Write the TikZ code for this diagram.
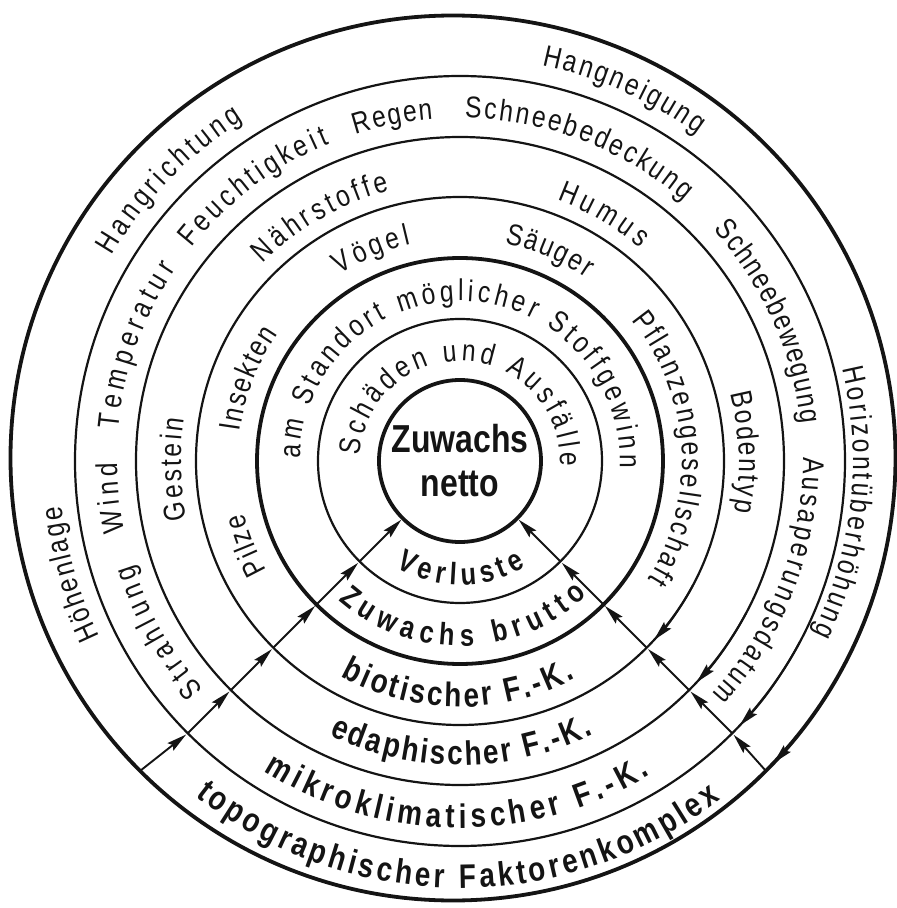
\documentclass[tikz,border=0pt]{standalone}
\usepackage{fontspec}
\newfontfamily\condsans[FakeStretch=0.82]{Liberation Sans}
\usetikzlibrary{arrows.meta,decorations.text}
\definecolor{fkInk}{HTML}{141414}
\newcommand{\ringfont}{\condsans\fontsize{30}{36}\selectfont}
\newcommand{\fkfont}{\condsans\bfseries\fontsize{34}{40}\selectfont}
\newcommand{\lossfont}{\condsans\bfseries\fontsize{31}{37}\selectfont}
\newcommand{\nettofont}{\condsans\bfseries\fontsize{39}{44}\selectfont}
\tikzset{
  fk ring/.style={circle, draw=fkInk, line width=2.2pt, inner sep=0pt, outer sep=0pt},
  fk thick/.style={fk ring, line width=3.8pt},
  fk arrow/.style={-{Stealth[length=20pt,width=9.5pt,inset=3pt]},
    draw=fkInk, line width=1.9pt},
  fk label/.style={decorate, decoration={text along path,
    text align={fit to path}, text color=fkInk}}
}

\begin{document}
\begin{tikzpicture}[x=1pt,y=1pt]
  \useasboundingbox (-460,-447) rectangle (437,461);
  \node[fk thick, minimum size=885pt] (topo) at (-7,3) {};
  \node[fk ring, minimum size=770pt] (mikro) at (0,0) {};
  \node[fk ring, minimum size=648pt] (edaph) at (0,0) {};
  \node[fk ring, minimum size=528pt] (biot) at (0,0) {};
  \node[fk thick, minimum size=406pt] (brutto) at (0,0) {};
  \node[fk ring, minimum size=284pt] (verl) at (0,0) {};
  \node[fk thick, minimum size=162pt, font=\nettofont, text=fkInk,
    align=center] (netto) at (0,0) {Zuwachs\\netto};

  \foreach \ang in {225,315}
    \foreach \from/\to in {topo/mikro,mikro/edaph,edaph/biot,biot/brutto,brutto/verl,verl/netto}
      \draw[fk arrow, shorten >=2pt] (\from.\ang) -- (\to.\ang);
  \foreach \ring/\rad/\e in {topo/442.5/316.4,mikro/385/316.6,edaph/324/316.9,biot/264/317.3}
    \draw[fk arrow] (\ring.332) arc[start angle=332, end angle=\e, radius=\rad];

  \foreach \a/\b/\rad/\txt in {
    149.5/122.5/404/Hangrichtung,
    78.3/54/404/Hangneigung,
    13.6/-26/393/Horizontüberhöhung,
    206/186.5/401/Höhenlage,
    221.7/197.6/343/Strahlung,
    191.9/180.3/343/Wind,
    174.8/146/343/Temperatur,
    141.5/112.4/343/Feuchtigkeit,
    107.7/94.5/343/Regen,
    89.2/49.3/343/Schneebedeckung,
    42.4/6.2/343/Schneebewegung,
    0.6/-42.8/343/Ausaperungsdatum,
    192/171.4/279/Gestein,
    134.9/104.5/279/Nährstoffe,
    69.6/49.8/279/Humus,
    14.1/-10.5/279/Bodentyp,
    209.5/193.6/222/Pilze,
    172.4/145/222/Insekten,
    122.7/102.8/222/Vögel,
    78.4/55.4/222/Säuger,
    39.3/-32.2/222/Pflanzengesellschaft,
    179/-2.4/160/am Standort möglicher Stoffgewinn,
    177/-3.1/100/Schäden und Ausfälle}
    \path[fk label, decoration={text/.expanded={|\noexpand\ringfont|\txt}}]
      (\a:\rad) arc[start angle=\a, end angle=\b, radius=\rad];

  \foreach \a/\b/\rad/\txt in {
    231.7/307.6/427/topographischer Faktorenkomplex,
    237.7/301.2/367/mikroklimatischer F.-K.,
    244.5/296/304/edaphischer F.-K.,
    241/297.9/246/biotischer F.-K.}
    \path[fk label, decoration={text/.expanded={|\noexpand\fkfont|\txt}}]
      (\a:\rad) arc[start angle=\a, end angle=\b, radius=\rad];
  \foreach \a/\b/\rad/\txt in {228.8/313.4/185/Zuwachs brutto, 238.8/302/124/Verluste}
    \path[fk label, decoration={text/.expanded={|\noexpand\lossfont|\txt}}]
      (\a:\rad) arc[start angle=\a, end angle=\b, radius=\rad];
\end{tikzpicture}
\end{document}
